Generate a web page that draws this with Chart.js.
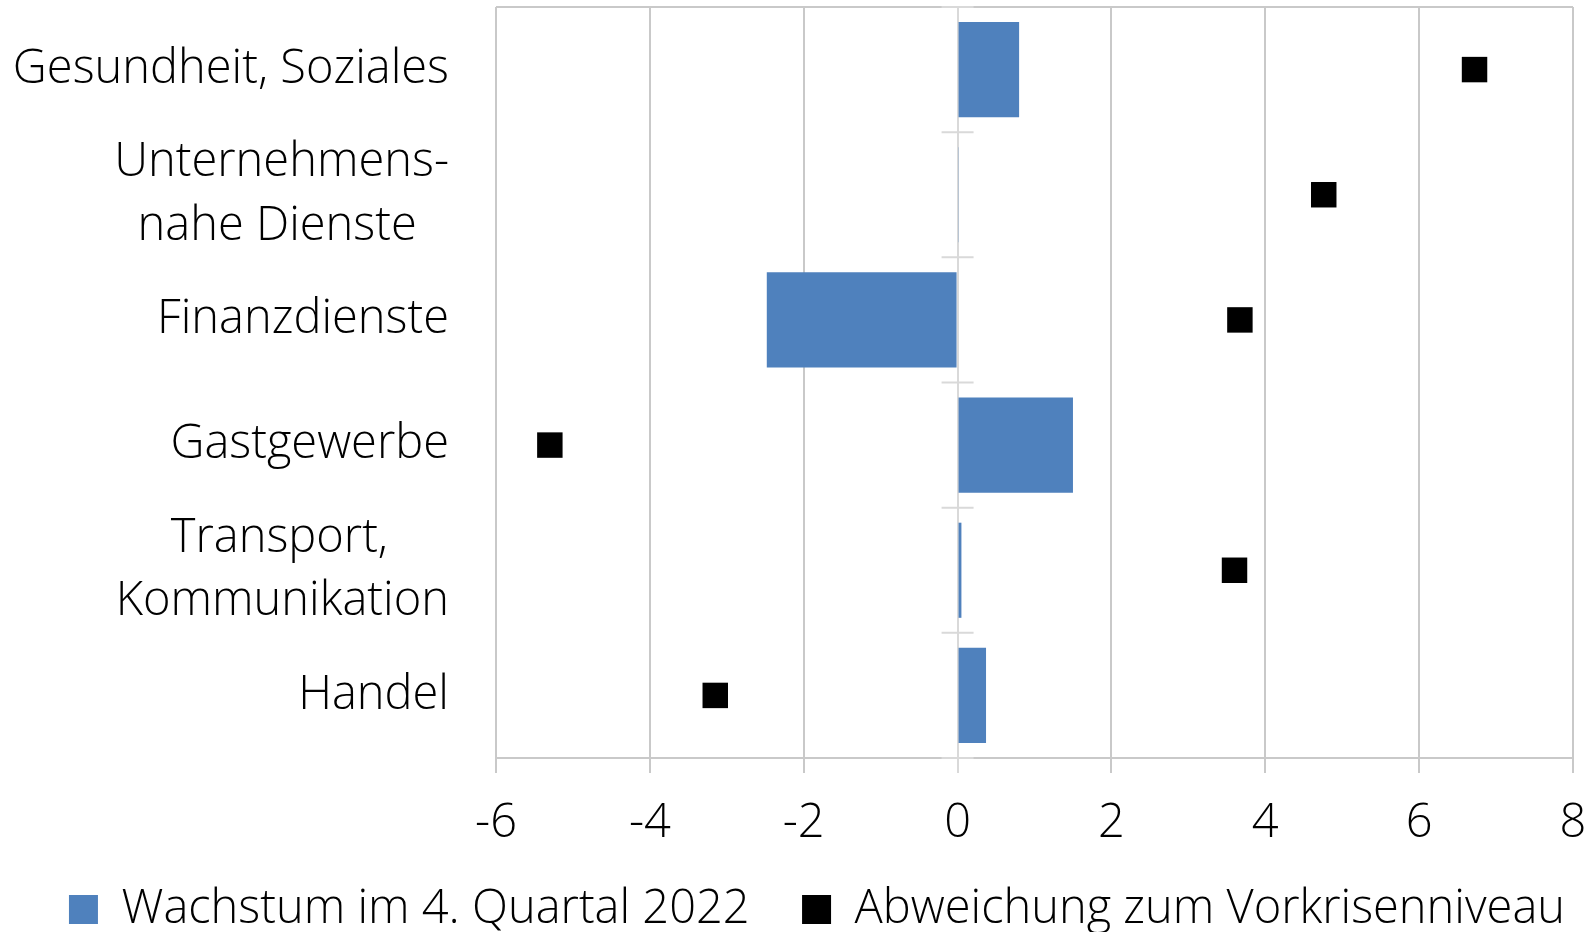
<!DOCTYPE html>
<html lang="de">
<head>
<meta charset="utf-8">
<title>Wachstum nach Branchen</title>
<script src="https://cdn.jsdelivr.net/npm/chart.js@4"></script>
<style>
  html, body { margin: 0; padding: 0; background: #fff; }
  #wrap { width: 1593px; height: 932px; position: relative; }
</style>
</head>
<body>
<div id="wrap"><canvas id="branchenChart"></canvas></div>
<script>
const categories = [
    'Gesundheit, Soziales',
    ['Unternehmens-', 'nahe Dienste  \u2009'],
    'Finanzdienste',
    'Gastgewerbe',
    ['Transport,     ', 'Kommunikation'],
    'Handel'
];
const wachstumQ4 = [0.8, 0.01, -2.48, 1.5, 0.05, 0.37];
const abweichungVorkrise = [6.72, 4.76, 3.67, -5.3, 3.6, -3.15];
const xTicks = [-6, -4, -2, 0, 2, 4, 6, 8];

const gridGray = '#c9c9c9';
const zeroGray = '#d9d9d9';
const fontFamily = '"Open Sans", "Noto Sans", sans-serif';
const fontSize = 47;

// kleine Teilstriche an der Nulllinie zwischen den Kategorien
const zeroAxisTicks = {
    id: 'zeroAxisTicks',
    beforeDatasetsDraw(chart) {
        const { ctx, scales: { x, y } } = chart;
        const x0 = x.getPixelForValue(0);
        ctx.save();
        ctx.strokeStyle = zeroGray;
        ctx.lineWidth = 2;
        for (let i = 0; i <= categories.length; i++) {
            const py = y.getPixelForValue(i - 0.5);
            ctx.beginPath();
            ctx.moveTo(x0 - 16, py);
            ctx.lineTo(x0 + 16, py);
            ctx.stroke();
        }
        ctx.restore();
    }
};

const ctx = document.getElementById('branchenChart').getContext('2d');
new Chart(ctx, {
    type: 'bar',
    data: {
        labels: categories,
        datasets: [
            {
                type: 'line',
                label: 'Abweichung zum Vorkrisenniveau',
                data: abweichungVorkrise,
                showLine: false,
                pointStyle: 'rect',
                pointRadius: 18,
                pointHoverRadius: 18,
                backgroundColor: '#000',
                borderColor: '#000',
                borderWidth: 0,
                order: 0
            },
            {
                label: 'Wachstum im 4. Quartal 2022  ',
                data: wachstumQ4,
                backgroundColor: '#4f81bd',
                categoryPercentage: 1,
                barPercentage: 0.76,
                order: 1
            }
        ]
    },
    options: {
        indexAxis: 'y',
        responsive: true,
        maintainAspectRatio: false,
        animation: false,
        layout: {
            autoPadding: false,
            // rechts negativ, damit die Legende etwas nach rechts rückt
            padding: { top: 7, right: -41, left: 0, bottom: -11 }
        },
        scales: {
            x: {
                min: -6,
                max: 8,
                afterBuildTicks: (scale) => { scale.ticks = xTicks.map(v => ({ value: v })); },
                afterFit: (scale) => {
                    scale.height = 100;
                    scale.paddingLeft = 0;
                    scale.paddingRight = 20;
                },
                ticks: {
                    color: '#000',
                    padding: 22,
                    font: { family: fontFamily, size: fontSize, weight: 300 }
                },
                grid: {
                    color: (c) => (c.tick && c.tick.value === 0 ? zeroGray : gridGray),
                    lineWidth: 2,
                    tickLength: 15,
                    tickColor: (c) => (c.tick && c.tick.value === 0 ? zeroGray : gridGray)
                },
                border: { color: gridGray, width: 2 }
            },
            y: {
                afterFit: (scale) => {
                    scale.width = 496;
                    scale.paddingTop = 0;
                    scale.paddingBottom = 0;
                },
                ticks: {
                    autoSkip: false,
                    color: '#000',
                    padding: 47,
                    font: { family: fontFamily, size: fontSize, weight: 300, lineHeight: 1.35 }
                },
                grid: {
                    offset: true,
                    drawTicks: false,
                    lineWidth: 2,
                    color: (c) => (c.index === 0 ? gridGray : 'rgba(0,0,0,0)')
                },
                border: { display: false }
            }
        },
        plugins: {
            legend: {
                position: 'bottom',
                reverse: true,
                labels: {
                    color: '#000',
                    boxWidth: 29,
                    boxHeight: 29,
                    padding: 28,
                    font: { family: fontFamily, size: fontSize, weight: 300, lineHeight: 1 }
                }
            },
            tooltip: { enabled: false }
        }
    },
    plugins: [zeroAxisTicks]
});
</script>
</body>
</html>
